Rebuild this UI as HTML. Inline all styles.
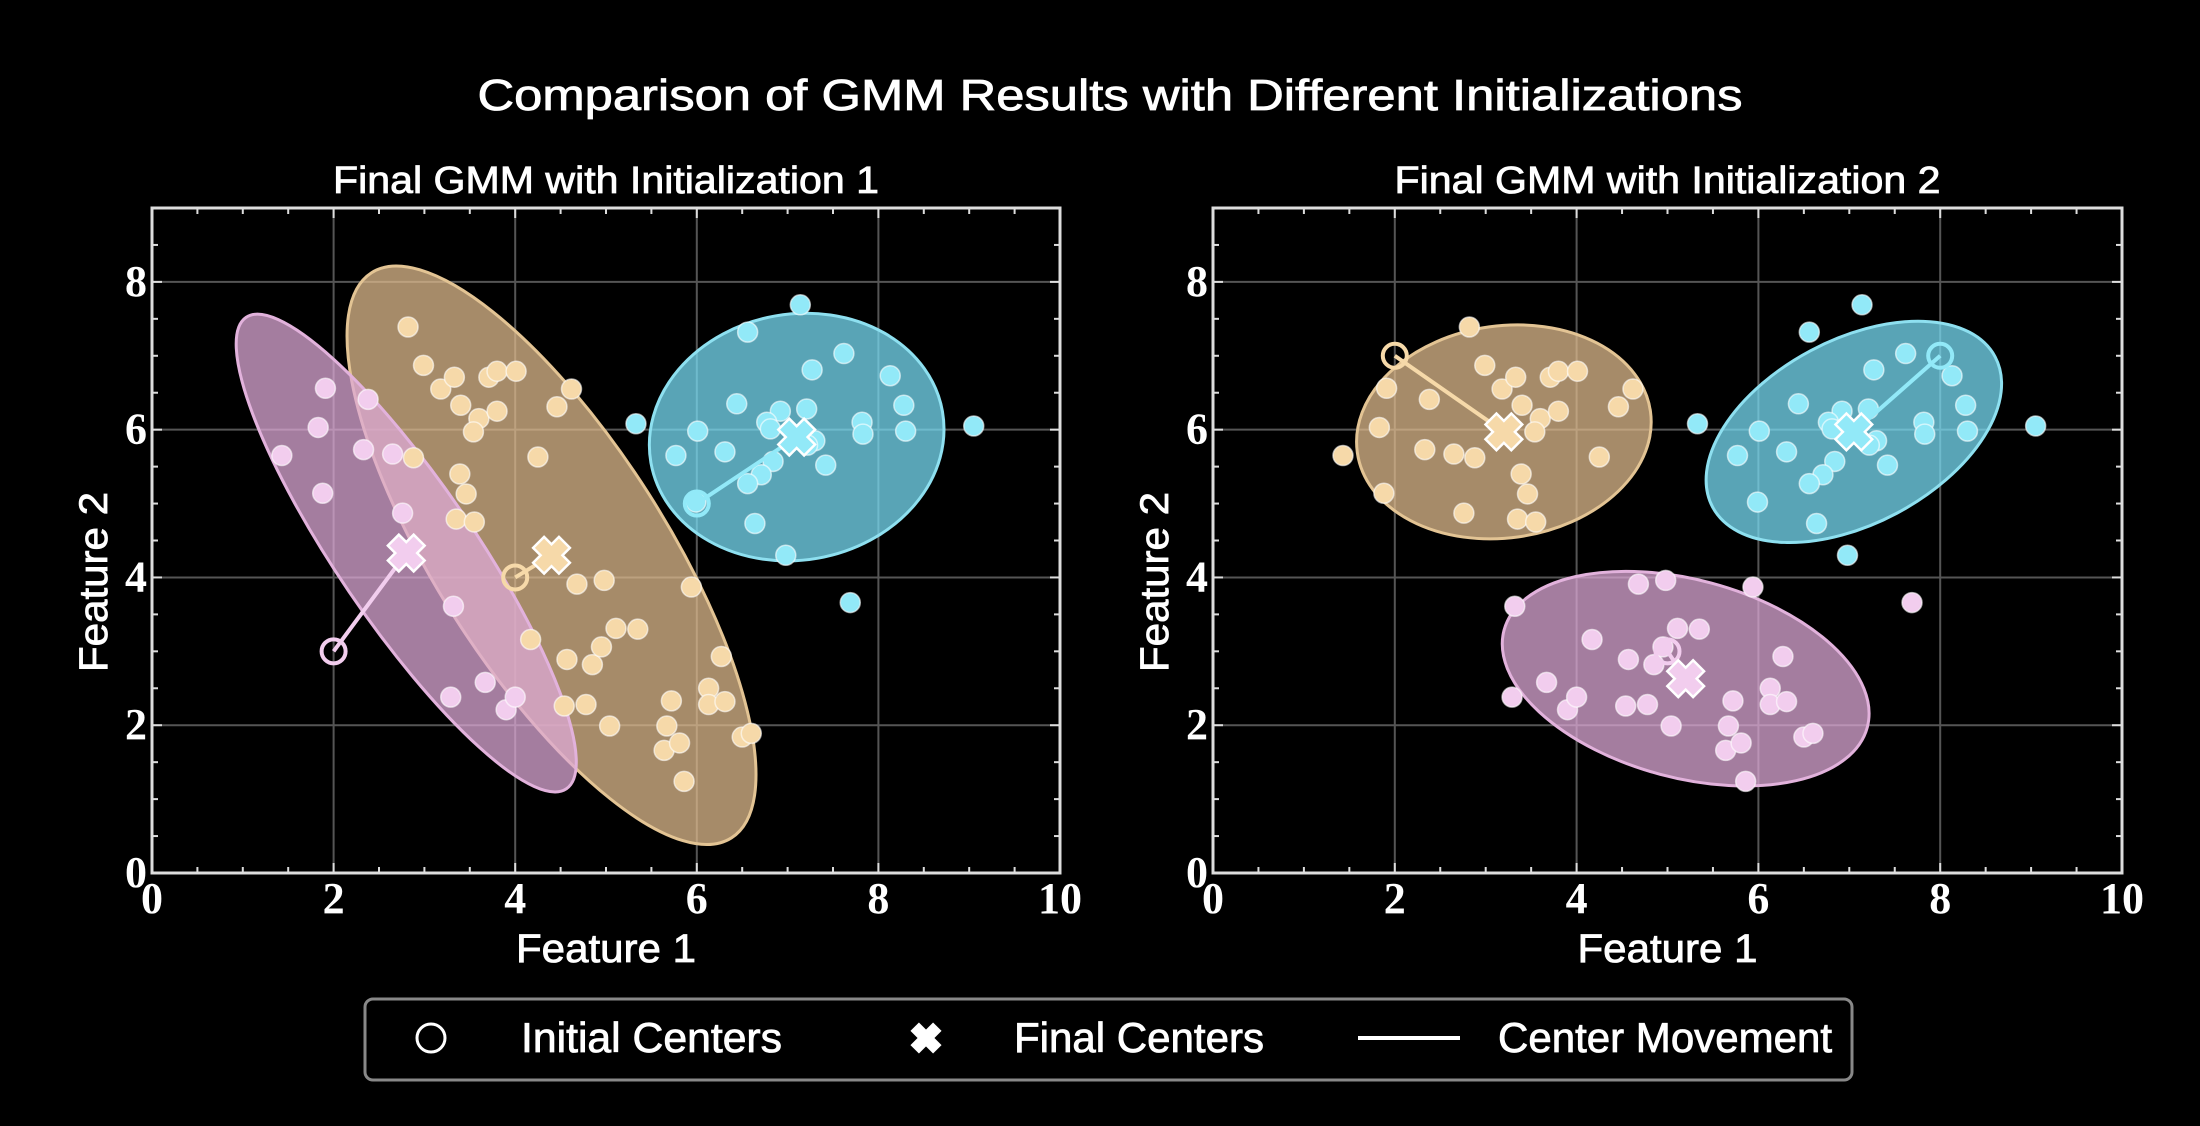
<!DOCTYPE html>
<html><head><meta charset="utf-8"><style>
html,body{margin:0;padding:0;background:#000;}
svg{display:block;}
text{font-family:"Liberation Sans",sans-serif;fill:#fff;stroke:#fff;stroke-width:0.8px;}
.tick{font-family:"Liberation Serif",serif;font-size:44px;font-weight:bold;stroke-width:0;}
</style></head><body>
<svg id="chart" width="2200" height="1126" viewBox="0 0 2200 1126">
<rect width="2200" height="1126" fill="#000"/>
<text x="1110" y="110" font-size="44" text-anchor="middle" textLength="1265" lengthAdjust="spacingAndGlyphs">Comparison of GMM Results with Different Initializations</text>
<g id="plots"></g>
<g>
<rect x="365" y="999" width="1487" height="81" rx="8" fill="#000" stroke="#888" stroke-width="3"/>
<circle cx="431" cy="1038" r="14" fill="none" stroke="#fff" stroke-width="3"/>
<text x="521" y="1052" font-size="42" textLength="261" lengthAdjust="spacingAndGlyphs">Initial Centers</text>
<g transform="translate(926,1038)">
<rect x="-16" y="-6" width="32" height="12" fill="#fff" transform="rotate(45)"/>
<rect x="-16" y="-6" width="32" height="12" fill="#fff" transform="rotate(-45)"/>
</g>
<text x="1014" y="1052" font-size="42" textLength="250" lengthAdjust="spacingAndGlyphs">Final Centers</text>
<line x1="1358" y1="1038" x2="1460" y2="1038" stroke="#fff" stroke-width="4"/>
<text x="1498" y="1052" font-size="42" textLength="334" lengthAdjust="spacingAndGlyphs">Center Movement</text>
</g>
</svg>
<script>
const pointsX=[2.82,1.43,1.83,1.91,1.88,2.38,2.33,2.65,2.88,2.76,2.99,3.18,3.33,3.40,3.60,3.54,3.39,3.46,3.35,3.55,3.71,3.80,4.01,3.80,4.25,4.46,4.62,
7.14,6.56,7.62,7.27,8.13,8.28,8.30,7.82,7.83,6.44,6.92,7.21,6.77,6.81,7.30,7.22,7.42,6.84,6.71,6.56,6.31,6.01,5.77,5.99,6.64,6.98,5.33,9.05,
3.32,3.29,3.67,3.90,4.00,4.17,4.68,4.98,4.57,4.54,4.78,4.85,4.95,5.11,5.35,5.04,5.94,6.27,6.13,6.13,6.31,5.72,5.67,5.64,5.81,5.86,6.50,6.60,7.69];
const pointsY=[7.39,5.65,6.03,6.56,5.14,6.41,5.73,5.67,5.62,4.87,6.87,6.55,6.71,6.33,6.15,5.97,5.40,5.13,4.79,4.75,6.71,6.79,6.79,6.25,5.63,6.31,6.55,
7.69,7.32,7.03,6.81,6.73,6.33,5.98,6.10,5.94,6.35,6.25,6.28,6.10,6.01,5.85,5.79,5.52,5.57,5.39,5.27,5.70,5.98,5.65,5.02,4.73,4.30,6.08,6.05,
3.61,2.38,2.58,2.21,2.38,3.16,3.91,3.96,2.89,2.26,2.28,2.82,3.06,3.31,3.30,1.99,3.87,2.93,2.50,2.28,2.32,2.33,1.99,1.66,1.76,1.24,1.84,1.89,3.66];
const labels1=[1,0,0,0,0,0,0,0,1,0,1,1,1,1,1,1,1,1,1,1,1,1,1,1,1,1,1,
2,2,2,2,2,2,2,2,2,2,2,2,2,2,2,2,2,2,2,2,2,2,2,2,2,2,2,2,
0,0,0,0,0,1,1,1,1,1,1,1,1,1,1,1,1,1,1,1,1,1,1,1,1,1,1,1,2];
const labels2=[1,1,1,1,1,1,1,1,1,1,1,1,1,1,1,1,1,1,1,1,1,1,1,1,1,1,1,
2,2,2,2,2,2,2,2,2,2,2,2,2,2,2,2,2,2,2,2,2,2,2,2,2,2,2,2,
0,0,0,0,0,0,0,0,0,0,0,0,0,0,0,0,0,0,0,0,0,0,0,0,0,0,0,0,0];
const init1X=[2,4,6], init1Y=[3,4,5];
const final1X=[2.8,4.4,7.1], final1Y=[4.33,4.3,5.9];
const init2X=[5,2,8], init2Y=[3,7,7];
const final2X=[5.2,3.2,7.05], final2Y=[2.63,5.97,5.97];
const ell1A=[285,335,148], ell1B=[69,115,123], ell1Ang=[55.8,57.5,-10];
const ell2A=[188,148,160], ell2B=[99,106,92], ell2Ang=[15,-8,-28];
const xTicks=[0,2,4,6,8,10], yTicks=[0,2,4,6,8];
const clusterNames=['pink','tan','cyan'];

const fillC=['#dda9d7','#e0bc8d','#78ddf5'];
const edgeC=['#e2b2dc','#e3c494','#8ee0f0'];
const ptC=['#f2cdee','#f6d9a9','#92e9f8'];
const ns='http://www.w3.org/2000/svg';
function mk(tag,attrs,parent){const e=document.createElementNS(ns,tag);for(const k in attrs)e.setAttribute(k,attrs[k]);parent.appendChild(e);return e;}
const root=document.getElementById('plots');
const Y0=873,YT=208;
function drawPlot(idx,L,R,title,labels,ix,iy,fx,fy,eA,eB,eAng){
  const sx=v=>L+(R-L)*v/10, sy=v=>Y0-(Y0-YT)*v/9;
  const g=mk('g',{},root);
  
  
  const t=mk('text',{x:(L+R)/2,y:193,'font-size':38,'text-anchor':'middle',textLength:546,lengthAdjust:'spacingAndGlyphs'},g);
  t.textContent=title;
  
  
  xTicks.forEach(v=>{const l=mk('line',{x1:sx(v),x2:sx(v),y1:YT,y2:Y0,stroke:'#555','stroke-width':2},g);
    
    });
  yTicks.forEach(v=>{const l=mk('line',{x1:L,x2:R,y1:sy(v),y2:sy(v),stroke:'#555','stroke-width':2},g);
    
    });
  [1,2,0].forEach(k=>{
    const e=mk('ellipse',{cx:0,cy:0,rx:eA[k],ry:eB[k],fill:fillC[k],'fill-opacity':0.74,stroke:edgeC[k],'stroke-width':3,
      transform:`translate(${sx(fx[k])},${sy(fy[k])}) rotate(${eAng[k]})`},g);
    
    
  });
  for(let i=0;i<pointsX.length;i++){
    const c=mk('circle',{cx:sx(pointsX[i]),cy:sy(pointsY[i]),r:10,fill:ptC[labels[i]],stroke:'#fff','stroke-opacity':0.6,'stroke-width':1.5},g);
    
    
  }
  for(let k=0;k<3;k++){
    const ln=mk('line',{x1:sx(ix[k]),y1:sy(iy[k]),x2:sx(fx[k]),y2:sy(fy[k]),stroke:ptC[k],'stroke-width':4},g);
    
    
    const ci=mk('circle',{cx:sx(ix[k]),cy:sy(iy[k]),r:12,fill:'none',stroke:ptC[k],'stroke-width':4},g);
    
    
    const xg=mk('g',{transform:`translate(${sx(fx[k])},${sy(fy[k])})`},g);
    
    
    [45,-45].forEach(a=>mk('rect',{x:-17,y:-6.5,width:34,height:13,fill:'#fff',stroke:'#fff','stroke-width':5,transform:`rotate(${a})`},xg));
    [45,-45].forEach(a=>mk('rect',{x:-17,y:-6.5,width:34,height:13,fill:ptC[k],transform:`rotate(${a})`},xg));
  }
  const fr=mk('rect',{x:L,y:YT,width:R-L,height:Y0-YT,fill:'none',stroke:'#ddd','stroke-width':3},g);
  
  
  for(let v=0;v<=10;v+=0.5){[[Y0,-1],[YT,1]].forEach(([yy,d])=>{const tl=mk('line',{x1:sx(v),x2:sx(v),y1:yy,y2:yy+d*(v%2==0?10:6),stroke:'#ddd','stroke-width':2},g);
    
    });}
  for(let v=0;v<=9;v+=0.5){[[L,1],[R,-1]].forEach(([xx,d])=>{const tl=mk('line',{x1:xx,x2:xx+d*(v%2==0?10:6),y1:sy(v),y2:sy(v),stroke:'#ddd','stroke-width':2},g);
    
    });}
  xTicks.forEach(v=>{const tx=mk('text',{x:sx(v),y:913,'text-anchor':'middle',class:'tick'},g);tx.textContent=String(v);
    
    });
  yTicks.forEach(v=>{const tx=mk('text',{x:L-5,y:sy(v)+14,'text-anchor':'end',class:'tick'},g);tx.textContent=String(v);
    
    });
  const xl=mk('text',{x:(L+R)/2,y:962,'font-size':40,'text-anchor':'middle',textLength:180,lengthAdjust:'spacingAndGlyphs'},g);
  xl.textContent='Feature 1';
  
  
  const yl=mk('text',{x:0,y:0,'font-size':40,'text-anchor':'middle',textLength:180,lengthAdjust:'spacingAndGlyphs',transform:`translate(${L-45},582) rotate(-90)`},g);
  yl.textContent='Feature 2';
  
  
}
drawPlot(1,152,1060,'Final GMM with Initialization 1',labels1,init1X,init1Y,final1X,final1Y,ell1A,ell1B,ell1Ang);
drawPlot(2,1213,2122,'Final GMM with Initialization 2',labels2,init2X,init2Y,final2X,final2Y,ell2A,ell2B,ell2Ang);
</script>
</body></html>
